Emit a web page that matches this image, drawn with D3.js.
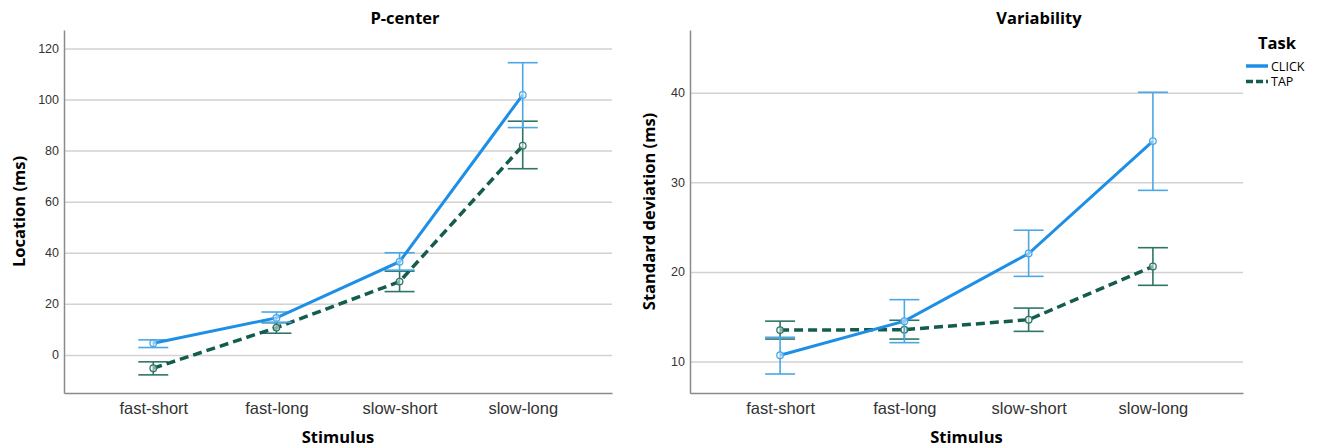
<!DOCTYPE html>
<html>
<head>
<meta charset="utf-8">
<script src="https://cdn.jsdelivr.net/npm/d3@7"></script>
<style>
    body { margin: 0; background: #fff; }
    svg { display: block; font-family: "Open Sans", "DejaVu Sans", sans-serif; }
    .axis-grid line { stroke: #d2d2d2; stroke-width: 1.5; }
    .axis-grid path { display: none; }
    .axis path { stroke: #8a8a8a; stroke-width: 1.5; }
    .axis line { display: none; }
    .axis text { fill: #333; }
</style>
</head>
<body>
<svg id="chart"></svg>
<script>
const categories = ['fast-short', 'fast-long', 'slow-short', 'slow-long'];
const tasks = ['CLICK', 'TAP'];

// P-center (ms): mean and 95% CI ends
const pcenterClick = [4.6, 14.5, 36.5, 101.8];
const pcenterClickLow = [2.9, 12.8, 33.2, 89.0];
const pcenterClickHigh = [5.9, 16.8, 40.0, 114.4];
const pcenterTap = [-5.2, 10.7, 28.7, 81.9];
const pcenterTapLow = [-7.8, 8.5, 24.8, 72.9];
const pcenterTapHigh = [-2.7, 12.6, 32.8, 91.5];
const pcenterTicks = [0, 20, 40, 60, 80, 100, 120];

// Variability (ms)
const varClick = [10.7, 14.5, 22.05, 34.6];
const varClickLow = [8.6, 12.1, 19.5, 29.1];
const varClickHigh = [12.7, 16.9, 24.65, 40.05];
const varTap = [13.5, 13.55, 14.66, 20.6];
const varTapLow = [12.5, 12.5, 13.36, 18.5];
const varTapHigh = [14.5, 14.6, 15.96, 22.7];
const varTicks = [10, 20, 30, 40];

const WIDTH = 1320;
const HEIGHT = 447;
const TOP = 30;
const BOTTOM = 393;

const COLORS = {
    CLICK: { line: '#1e8fe6', bar: '#4aa8e6' },
    TAP: { line: '#145c4e', bar: '#2f7567' }
};

const svg = d3.select('#chart')
    .attr('width', WIDTH)
    .attr('height', HEIGHT);

function rows(mean, low, high) {
    return categories.map((c, i) => ({ cat: c, mean: mean[i], low: low[i], high: high[i] }));
}

function drawPanel(opts) {
    const xScale = d3.scalePoint()
        .domain(categories)
        .range([opts.left, opts.right])
        .padding(0.725);
    const yScale = d3.scaleLinear()
        .domain(opts.domain)
        .range([BOTTOM, TOP]);
    const plotW = opts.right - opts.left;

    const g = svg.append('g');

    // grid
    g.append('g')
        .attr('class', 'axis-grid')
        .attr('transform', 'translate(' + opts.left + ',0)')
        .call(d3.axisLeft(yScale).tickValues(opts.ticks).tickSize(-plotW).tickFormat(''));

    // axes
    g.append('g')
        .attr('class', 'axis y')
        .attr('transform', 'translate(' + opts.left + ',0)')
        .call(d3.axisLeft(yScale).tickValues(opts.ticks).tickSize(0).tickPadding(5).tickSizeOuter(0))
        .call(a => a.selectAll('text').attr('font-size', 12.5));
    g.append('g')
        .attr('class', 'axis x')
        .attr('transform', 'translate(0,' + BOTTOM + ')')
        .call(d3.axisBottom(xScale).tickSize(0).tickPadding(9).tickSizeOuter(0))
        .call(a => a.selectAll('text').attr('font-size', 16.5).attr('fill', '#222').attr('dy', '0.71em'));

    // series: TAP under CLICK
    opts.series.forEach(s => {
        const col = COLORS[s.name];
        const data = s.data;
        const line = d3.line()
            .x(d => xScale(d.cat))
            .y(d => yScale(d.mean));

        const bars = g.append('g').attr('stroke', col.bar).attr('stroke-width', 1.6).attr('fill', 'none');
        bars.selectAll('.stem')
            .data(data)
            .join('line')
            .attr('x1', d => xScale(d.cat)).attr('x2', d => xScale(d.cat))
            .attr('y1', d => yScale(d.low)).attr('y2', d => yScale(d.high));
        bars.selectAll('.cap-hi')
            .data(data)
            .join('line')
            .attr('x1', d => xScale(d.cat) - 15).attr('x2', d => xScale(d.cat) + 15)
            .attr('y1', d => yScale(d.high)).attr('y2', d => yScale(d.high));
        bars.selectAll('.cap-lo')
            .data(data)
            .join('line')
            .attr('x1', d => xScale(d.cat) - 15).attr('x2', d => xScale(d.cat) + 15)
            .attr('y1', d => yScale(d.low)).attr('y2', d => yScale(d.low));

        g.append('path')
            .datum(data)
            .attr('d', line)
            .attr('fill', 'none')
            .attr('stroke', col.line)
            .attr('stroke-width', s.name === 'TAP' ? 3.5 : 3)
            .attr('stroke-dasharray', s.name === 'TAP' ? '9,5' : null);

        g.selectAll('.pt-' + s.name)
            .data(data)
            .join('circle')
            .attr('cx', d => xScale(d.cat))
            .attr('cy', d => yScale(d.mean))
            .attr('r', 3.3)
            .attr('fill', 'rgba(255,255,255,0.5)')
            .attr('stroke', col.bar)
            .attr('stroke-width', 1.3);
    });

    // titles
    svg.append('text')
        .attr('x', opts.titleX).attr('y', 24)
        .attr('text-anchor', 'middle')
        .attr('font-size', 16.5).attr('font-weight', 'bold')
        .text(opts.title);
    svg.append('text')
        .attr('x', (opts.left + opts.right) / 2).attr('y', 443)
        .attr('text-anchor', 'middle')
        .attr('font-size', 16.5).attr('font-weight', 'bold')
        .text('Stimulus');
    svg.append('text')
        .attr('transform', 'translate(' + opts.yTitleX + ',' + ((TOP + BOTTOM) / 2) + ') rotate(-90)')
        .attr('text-anchor', 'middle')
        .attr('font-size', 16.5).attr('font-weight', 'bold')
        .text(opts.yTitle);
}

drawPanel({
    left: 64, right: 612,
    domain: [-14.9, 127.2],
    ticks: pcenterTicks,
    title: 'P-center', titleX: 405,
    yTitle: 'Location (ms)', yTitleX: 25,
    series: [
        { name: 'TAP', data: rows(pcenterTap, pcenterTapLow, pcenterTapHigh) },
        { name: 'CLICK', data: rows(pcenterClick, pcenterClickLow, pcenterClickHigh) }
    ]
});

drawPanel({
    left: 690, right: 1243,
    domain: [6.48, 47.0],
    ticks: varTicks,
    title: 'Variability', titleX: 1039,
    yTitle: 'Standard deviation (ms)', yTitleX: 655,
    series: [
        { name: 'TAP', data: rows(varTap, varTapLow, varTapHigh) },
        { name: 'CLICK', data: rows(varClick, varClickLow, varClickHigh) }
    ]
});

// legend
const legend = svg.append('g');
legend.append('text')
    .attr('x', 1277).attr('y', 49)
    .attr('text-anchor', 'middle')
    .attr('font-size', 16.5).attr('font-weight', 'bold')
    .text('Task');
legend.selectAll('.key')
    .data(tasks)
    .join('line')
    .attr('x1', 1246).attr('x2', 1268)
    .attr('y1', (d, i) => 66 + i * 15.5).attr('y2', (d, i) => 66 + i * 15.5)
    .attr('stroke', d => COLORS[d].line)
    .attr('stroke-width', 3.5)
    .attr('stroke-dasharray', d => d === 'TAP' ? '7,3' : null);
legend.selectAll('.label')
    .data(tasks)
    .join('text')
    .attr('x', 1271).attr('y', (d, i) => 70.5 + i * 15.5)
    .attr('font-size', 12.5)
    .text(d => d);
</script>
</body>
</html>
